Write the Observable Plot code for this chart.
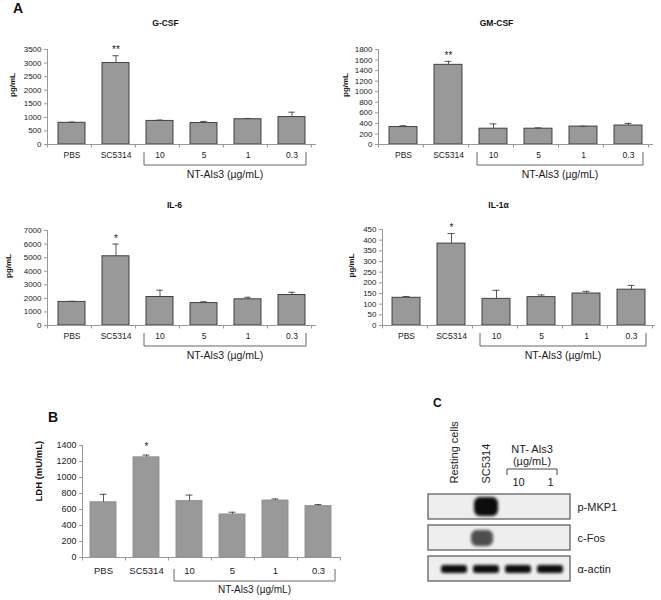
<!DOCTYPE html>
<html><head><meta charset="utf-8">
<script src="https://cdn.jsdelivr.net/npm/d3@7"></script>
<script src="https://cdn.jsdelivr.net/npm/@observablehq/plot@0.6"></script>
<style>
body{margin:0;background:#fff;}
#fig{position:relative;width:661px;height:600px;overflow:hidden;font-family:"Liberation Sans",Arial,sans-serif;}
#fig svg{position:absolute;overflow:visible;}
</style></head><body><div id="fig"></div>
<script>
// ---------- data ----------
const categories = ["PBS", "SC5314", "10", "5", "1", "0.3"];
const groupLabel = "NT-Als3 (µg/mL)";
const groupFirst = "10", groupLast = "0.3";

const gcsfMean = [800, 3000, 870, 790, 930, 1010];
const gcsfErr  = [25, 270, 30, 60, 30, 180];
const gcsfSig  = ["", "**", "", "", "", ""];
const gcsfTicks = [0, 500, 1000, 1500, 2000, 2500, 3000, 3500];

const gmcsfMean = [330, 1510, 300, 300, 340, 360];
const gmcsfErr  = [25, 65, 90, 15, 5, 40];
const gmcsfSig  = ["", "**", "", "", "", ""];
const gmcsfTicks = [0, 200, 400, 600, 800, 1000, 1200, 1400, 1600, 1800];

const il6Mean = [1740, 5100, 2100, 1650, 1930, 2250];
const il6Err  = [40, 900, 500, 100, 150, 200];
const il6Sig  = ["", "*", "", "", "", ""];
const il6Ticks = [0, 1000, 2000, 3000, 4000, 5000, 6000, 7000];

const il1aMean = [130, 384, 125, 133, 150, 168];
const il1aErr  = [6, 47, 40, 10, 10, 20];
const il1aSig  = ["", "*", "", "", "", ""];
const il1aTicks = [0, 50, 100, 150, 200, 250, 300, 350, 400, 450];

const ldhMean = [690, 1252, 705, 538, 712, 642];
const ldhErr  = [100, 28, 75, 28, 20, 20];
const ldhSig  = ["", "*", "", "", "", ""];
const ldhTicks = [0, 200, 400, 600, 800, 1000, 1200, 1400];

// western blot (panel C)
const laneLabels = ["Resting cells", "SC5314", "10", "1"];
const blotRows = ["p-MKP1", "c-Fos", "α-actin"];
const pMkp1Intensity = [0, 1, 0, 0];
const cFosIntensity  = [0, 0.72, 0, 0];
const actinIntensity = [1, 1, 1, 1];
const blotGroupLines = ["NT- Als3", "(µg/mL)"];

// ---------- helpers ----------
const FONT = "Liberation Sans, Arial, sans-serif";
const BAND = "#0a0a0a";
const fig = document.getElementById("fig");

function place(el, left, top) {
  el.style.position = "absolute";
  el.style.left = left + "px";
  el.style.top = top + "px";
  fig.appendChild(el);
}

function barPanel(c) {
  const data = categories.map((cat, i) => ({cat, v: c.mean[i], top: c.mean[i] + c.err[i], sig: c.sig[i]}));
  const n = categories.length;
  const inner = c.width - c.ml - c.mr;
  const pi = c.pad;
  const bw = inner / n * (1 - pi);
  const capInset = (bw - c.cap) / 2;
  const marks = [
    Plot.axisY({ticks: c.ticks, tickFormat: d => String(d), tickSize: 3, tickPadding: 3, label: null, fontSize: c.yTickFont, stroke: "#999", fill: "#1a1a1a"}),
    Plot.axisX({tickSize: 0, tickPadding: c.xPad, label: null, fontSize: c.xTickFont, fill: "#1a1a1a"}),
    Plot.barY(data, {x: "cat", y: "v", fill: "#999999", stroke: c.barStroke, strokeWidth: 0.9}),
    Plot.ruleX(data, {x: "cat", y1: "v", y2: "top", stroke: "#444", strokeWidth: 0.9}),
    Plot.tickY(data, {x: "cat", y: "top", stroke: "#444", strokeWidth: 0.9, insetLeft: capInset, insetRight: capInset}),
    Plot.text(data, {x: "cat", y: "top", text: "sig", dy: c.sigDy, fontSize: 10, fill: "#222"}),
    Plot.text([c.yLabel], {frameAnchor: "left", dx: c.yLabDx, rotate: -90, lineAnchor: "middle", fontWeight: "bold", fontSize: c.yLabFont, fill: "#111"})
  ];
  if (c.title) marks.push(Plot.text([c.title], {frameAnchor: "top-left", textAnchor: "middle", lineAnchor: "middle",
    dx: c.titleX - c.ml, dy: c.titleY - c.mt, fontWeight: "bold", fontSize: 8.5, fill: "#111"}));
  const plot = Plot.plot({
    width: c.width, height: c.height,
    marginTop: c.mt, marginBottom: c.mb, marginLeft: c.ml, marginRight: c.mr,
    style: {fontFamily: FONT, background: "transparent", color: "#222", overflow: "visible"},
    x: {domain: categories, paddingInner: pi, paddingOuter: pi / 2},
    y: {domain: [0, c.ticks[c.ticks.length - 1]]},
    marks
  });
  // Excel-style axis lines, category boundary ticks, group bracket
  const xs = plot.scale("x"), ys = plot.scale("y");
  const [xL, xR] = xs.range;
  const y0 = ys.apply(0), yT = ys.apply(c.ticks[c.ticks.length - 1]);
  const svg = d3.select(plot);
  const g = svg.append("g").attr("fill", "none").attr("stroke", "#999").attr("stroke-width", 1);
  g.append("line").attr("x1", xL + 0.5).attr("x2", xL + 0.5).attr("y1", yT).attr("y2", y0);
  g.append("line").attr("x1", xL).attr("x2", xR).attr("y1", y0 + 0.5).attr("y2", y0 + 0.5);
  for (let i = 0; i <= n; i++) {
    const x = Math.round(xL + i * xs.step) + 0.5;
    g.append("line").attr("x1", x).attr("x2", x).attr("y1", y0).attr("y2", y0 + 3.5);
  }
  const xa = xs.apply(groupFirst) - 2;
  const xb = xs.apply(groupLast) + xs.bandwidth + c.brRight;
  svg.append("path")
    .attr("d", `M${xa},${y0 + c.br1}V${y0 + c.br2}H${xb}V${y0 + c.br1}`)
    .attr("fill", "none").attr("stroke", "#666").attr("stroke-width", 1);
  svg.append("text")
    .attr("x", (xa + xb) / 2).attr("y", y0 + c.grpY)
    .attr("text-anchor", "middle").attr("dominant-baseline", "middle")
    .attr("font-family", FONT).attr("font-size", c.grpFont).attr("fill", "#1a1a1a")
    .text(groupLabel);
  place(plot, c.left, c.top);
}

const aBase = {pad: 0.385, cap: 7, barStroke: "#333", yTickFont: 8, xTickFont: 8.5, xPad: 7.5,
  yLabFont: 8, sigDy: -5.5, br1: 8, br2: 21, brRight: 1, grpY: 31, grpFont: 10.5, yLabel: "pg/mL"};

barPanel({...aBase, title: "G-CSF", mean: gcsfMean, err: gcsfErr, sig: gcsfSig, ticks: gcsfTicks,
  left: 0, top: 0, width: 330, height: 190, ml: 47, mr: 14, mt: 49, mb: 46, titleX: 165, titleY: 23, yLabDx: -35});
barPanel({...aBase, title: "GM-CSF", mean: gmcsfMean, err: gmcsfErr, sig: gmcsfSig, ticks: gmcsfTicks,
  left: 330, top: 0, width: 331, height: 190, ml: 48, mr: 8, mt: 49, mb: 46, titleX: 166, titleY: 23, yLabDx: -33});
barPanel({...aBase, title: "IL-6", mean: il6Mean, err: il6Err, sig: il6Sig, ticks: il6Ticks,
  left: 0, top: 190, width: 330, height: 180, ml: 47, mr: 14, mt: 40, mb: 45, titleX: 174, titleY: 15, yLabDx: -39});
barPanel({...aBase, title: "IL-1α", mean: il1aMean, err: il1aErr, sig: il1aSig, ticks: il1aTicks,
  left: 330, top: 190, width: 331, height: 180, ml: 52, mr: 6, mt: 39, mb: 45, titleX: 168, titleY: 15, yLabDx: -31});
barPanel({pad: 0.395, cap: 7, barStroke: "#8c8c8c", yTickFont: 9, xTickFont: 9.5, xPad: 10,
  yLabFont: 9.5, sigDy: -8.5, br1: 12, br2: 24, brRight: 4, grpY: 33, grpFont: 10, yLabel: "LDH (mU/mL)",
  title: null, mean: ldhMean, err: ldhErr, sig: ldhSig, ticks: ldhTicks,
  left: 0, top: 370, width: 360, height: 230, ml: 82, mr: 20, mt: 75, mb: 43, yLabDx: -44});

// ---------- panel C: western blot ----------
(function () {
  const bands = [];
  laneLabels.forEach((lane, i) => {
    bands.push({lane, row: blotRows[0], v: pMkp1Intensity[i]});
    bands.push({lane, row: blotRows[1], v: cFosIntensity[i]});
    bands.push({lane, row: blotRows[2], v: actinIntensity[i]});
  });
  const rowBands = (r) => bands.filter(d => d.row === r && d.v > 0);
  const plot = Plot.plot({
    width: 261, height: 230, marginLeft: 28, marginRight: 91, marginTop: 123, marginBottom: 18,
    style: {fontFamily: FONT, background: "transparent", color: "#222", overflow: "visible"},
    x: {domain: laneLabels, paddingInner: 0.12, paddingOuter: 0.258, align: 0.65, axis: null},
    y: {domain: blotRows, paddingInner: 0.2, paddingOuter: 0, axis: null},
    marks: [
      Plot.cell(blotRows, {y: d => d, fill: "#eeeeee", stroke: "#555", strokeWidth: 1.2}),
      Plot.cell(rowBands(blotRows[0]), {x: "lane", y: "row", fill: BAND, fillOpacity: "v", insetTop: 3, insetBottom: 3, insetLeft: 2, insetRight: 2, rx: 6}),
      Plot.cell(rowBands(blotRows[1]), {x: "lane", y: "row", fill: BAND, fillOpacity: "v", insetTop: 5, insetBottom: 4, insetLeft: 3, insetRight: 3, dx: -4, rx: 6}),
      Plot.cell(rowBands(blotRows[2]), {x: "lane", y: "row", fill: BAND, fillOpacity: "v", insetTop: 9, insetBottom: 8, insetLeft: 1, insetRight: 1, rx: 3}),
      Plot.text(laneLabels.slice(0, 2), {x: d => d, frameAnchor: "top", dy: -10, rotate: -90, textAnchor: "start", lineAnchor: "middle", fontSize: 11, fill: "#222"}),
      Plot.text(laneLabels.slice(2), {x: d => d, frameAnchor: "top", dy: -11, lineAnchor: "middle", fontSize: 11, fill: "#222"}),
      Plot.text(blotRows, {y: d => d, frameAnchor: "right", dx: 7, textAnchor: "start", lineAnchor: "middle", fontSize: 11, fill: "#222"})
    ]
  });
  const svg = d3.select(plot);
  const defs = svg.insert("defs", ":first-child");
  defs.append("filter").attr("id", "bandBlur").attr("x", "-40%").attr("y", "-80%").attr("width", "180%").attr("height", "260%")
    .append("feGaussianBlur").attr("stdDeviation", 1.6);
  // blur the band marks (groups whose fill is the band colour)
  svg.selectAll("g").filter(function () { return this.getAttribute("fill") === BAND; })
    .attr("filter", "url(#bandBlur)");
  svg.selectAll("rect").filter(function () { return this.getAttribute("fill") === BAND; })
    .attr("filter", "url(#bandBlur)");
  const xs = plot.scale("x"), ys = plot.scale("y");
  const c10 = xs.apply(laneLabels[2]) + xs.bandwidth / 2;
  const c1 = xs.apply(laneLabels[3]) + xs.bandwidth / 2;
  const top = ys.range[0];
  const xa = c10 - 11, xb = c1 + 7;
  svg.append("path").attr("d", `M${xa},${top - 18}V${top - 24}H${xb}V${top - 18}`)
    .attr("fill", "none").attr("stroke", "#444").attr("stroke-width", 1);
  blotGroupLines.forEach((t, i) => {
    svg.append("text").attr("x", (xa + xb) / 2).attr("y", top - 43 + i * 12)
      .attr("text-anchor", "middle").attr("dominant-baseline", "middle")
      .attr("font-family", FONT).attr("font-size", 11).attr("fill", "#222").text(t);
  });
  place(plot, 400, 370);
})();

// ---------- panel letters ----------
const letters = d3.select(fig).append("svg").attr("width", 661).attr("height", 600)
  .style("left", "0px").style("top", "0px").style("pointer-events", "none");
[["A", 13, 13, 14], ["B", 48, 422, 14], ["C", 433, 407, 12]].forEach(([t, x, y, s]) => {
  letters.append("text").attr("x", x).attr("y", y).attr("font-family", FONT).attr("font-weight", "bold")
    .attr("font-size", s).attr("fill", "#111").text(t);
});
</script>
</body></html>
